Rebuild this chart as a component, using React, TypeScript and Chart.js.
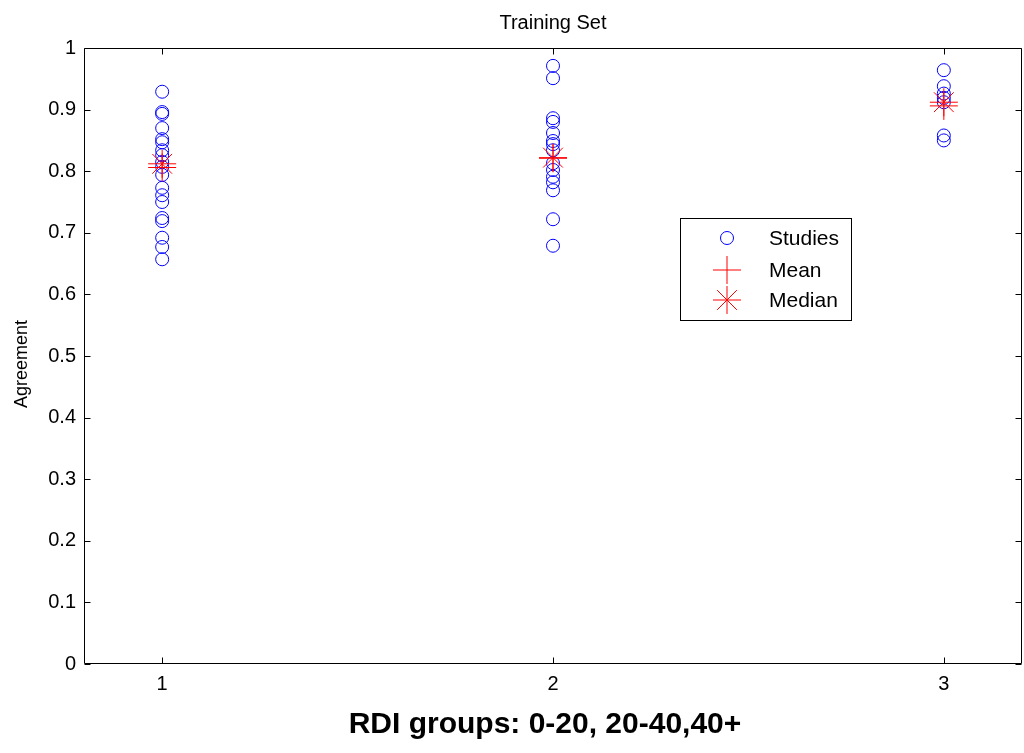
import React, { useEffect, useRef } from "react";
import { Chart, registerables } from "chart.js";

Chart.register(...registerables);

const groups = [1, 2, 3];
const groupTickLabels = ["1", "2", "3"];
const studiesG1 = [0.929, 0.896, 0.893, 0.87, 0.852, 0.847, 0.834, 0.826, 0.815, 0.807, 0.794, 0.773, 0.761, 0.75, 0.724, 0.719, 0.692, 0.677, 0.657];
const studiesG2 = [0.971, 0.951, 0.886, 0.88, 0.862, 0.849, 0.844, 0.834, 0.813, 0.802, 0.791, 0.782, 0.769, 0.722, 0.679];
const studiesG3 = [0.964, 0.938, 0.926, 0.919, 0.912, 0.858, 0.85];
const meanValues = [0.806, 0.821, 0.906];
const medianValues = [0.812, 0.822, 0.912];
const legendLabels = ["Studies", "Mean", "Median"];

const FONT = "'Liberation Sans', Arial, Helvetica, sans-serif";

const framePlugin = {
  id: "frame",
  afterDraw(chart: any) {
    const { ctx, chartArea } = chart;
    const { left, right, top, bottom } = chartArea;
    const xs = chart.scales.x;
    const ys = chart.scales.y;
    ctx.save();
    ctx.strokeStyle = "#000";
    ctx.lineWidth = 1;
    const L = Math.round(left) + 0.5;
    const R = Math.round(right) - 0.5;
    const T = Math.round(top) + 0.5;
    const B = Math.round(bottom) - 0.5;
    ctx.beginPath();
    ctx.rect(L, T, R - L, B - T);
    ctx.stroke();
    const tl = 6;
    ctx.beginPath();
    ys.ticks.forEach((t: any) => {
      const y = Math.round(ys.getPixelForValue(t.value)) + 0.5;
      ctx.moveTo(L, y);
      ctx.lineTo(L + tl, y);
      ctx.moveTo(R, y);
      ctx.lineTo(R - tl, y);
    });
    xs.ticks.forEach((t: any) => {
      const x = Math.round(xs.getPixelForValue(t.value)) + 0.5;
      ctx.moveTo(x, B);
      ctx.lineTo(x, B - tl);
      ctx.moveTo(x, T);
      ctx.lineTo(x, T + tl);
    });
    ctx.stroke();

    // titles
    ctx.fillStyle = "#000";
    ctx.textAlign = "center";
    ctx.textBaseline = "alphabetic";
    ctx.font = `20px ${FONT}`;
    ctx.fillText("Training Set", (left + right) / 2, 29);
    ctx.font = `bold 30px ${FONT}`;
    ctx.fillText("RDI groups: 0-20, 20-40,40+", (left + right) / 2 - 8, 733);
    ctx.save();
    ctx.translate(27, 364);
    ctx.rotate(-Math.PI / 2);
    ctx.font = `18px ${FONT}`;
    ctx.fillText("Agreement", 0, 0);
    ctx.restore();

    // legend
    const bx = 680.5, by = 218.5, bw = 171, bh = 102;
    ctx.fillStyle = "#fff";
    ctx.fillRect(bx, by, bw, bh);
    ctx.strokeStyle = "#000";
    ctx.strokeRect(bx, by, bw, bh);
    const mx = 727;
    const rows = [238, 270, 300];
    ctx.strokeStyle = "#0000ff";
    ctx.beginPath();
    ctx.arc(mx, rows[0], 6.5, 0, Math.PI * 2);
    ctx.stroke();
    ctx.strokeStyle = "#ff0000";
    const r = 14;
    ctx.beginPath();
    ctx.moveTo(mx - r, rows[1]);
    ctx.lineTo(mx + r, rows[1]);
    ctx.moveTo(mx, rows[1] - r);
    ctx.lineTo(mx, rows[1] + r);
    ctx.stroke();
    ctx.beginPath();
    for (let k = 0; k < 4; k++) {
      const a = (k * Math.PI) / 4;
      ctx.moveTo(mx - Math.cos(a) * r, rows[2] - Math.sin(a) * r);
      ctx.lineTo(mx + Math.cos(a) * r, rows[2] + Math.sin(a) * r);
    }
    ctx.stroke();
    ctx.fillStyle = "#000";
    ctx.textAlign = "left";
    ctx.textBaseline = "middle";
    ctx.font = `21px ${FONT}`;
    legendLabels.forEach((lab, i) => ctx.fillText(lab, 769, rows[i] + 1));
    ctx.restore();
  },
};

export default function App() {
  const ref = useRef<HTMLCanvasElement | null>(null);
  useEffect(() => {
    if (!ref.current) return;
    const studies = [studiesG1, studiesG2, studiesG3].flatMap((arr, i) =>
      arr.map((v) => ({ x: groups[i], y: v }))
    );
    const means = meanValues.map((v, i) => ({ x: groups[i], y: v }));
    const medians = medianValues.map((v, i) => ({ x: groups[i], y: v }));
    const chart = new Chart(ref.current, {
      type: "scatter",
      data: {
        datasets: [
          {
            label: legendLabels[0],
            data: studies,
            pointStyle: "circle",
            pointRadius: 6.5,
            borderColor: "#0000ff",
            backgroundColor: "rgba(0,0,0,0)",
            borderWidth: 1,
            order: 3,
          },
          {
            label: legendLabels[1],
            data: means,
            pointStyle: "cross",
            pointRadius: 14,
            borderColor: "#ff0000",
            backgroundColor: "rgba(0,0,0,0)",
            borderWidth: 1,
            order: 2,
          },
          {
            label: legendLabels[2],
            data: medians,
            pointStyle: "star",
            pointRadius: 14,
            borderColor: "#ff0000",
            backgroundColor: "rgba(0,0,0,0)",
            borderWidth: 1,
            order: 1,
          },
        ],
      },
      options: {
        animation: false,
        responsive: false,
        layout: { autoPadding: false, padding: { top: 48, right: 2, left: 0, bottom: 0 } },
        plugins: { legend: { display: false }, tooltip: { enabled: false }, title: { display: false } },
        scales: {
          x: {
            type: "linear",
            min: 0.8,
            max: 3.2,
            afterBuildTicks: (s: any) => {
              s.ticks = groups.map((v) => ({ value: v }));
            },
            afterFit: (s: any) => {
              s.height = 89;
            },
            grid: { display: false, drawTicks: false },
            border: { display: false },
            ticks: {
              autoSkip: false,
              maxRotation: 0,
              padding: 8,
              color: "#000",
              font: { family: FONT, size: 20 },
              callback: (v: any) => groupTickLabels[groups.indexOf(Number(v))] ?? "",
            },
          },
          y: {
            type: "linear",
            min: 0,
            max: 1,
            afterFit: (s: any) => {
              s.width = 84;
            },
            grid: { display: false, drawTicks: false },
            border: { display: false },
            ticks: {
              stepSize: 0.1,
              autoSkip: false,
              padding: 8,
              color: "#000",
              font: { family: FONT, size: 20 },
              callback: (v: any) => String(Math.round(Number(v) * 10) / 10),
            },
          },
        },
      },
      plugins: [framePlugin],
    });
    return () => chart.destroy();
  }, []);
  return (
    <div style={{ position: "absolute", left: 0, top: 0, width: 1024, height: 753, background: "#fff" }}>
      <canvas ref={ref} width={1024} height={753} />
    </div>
  );
}
